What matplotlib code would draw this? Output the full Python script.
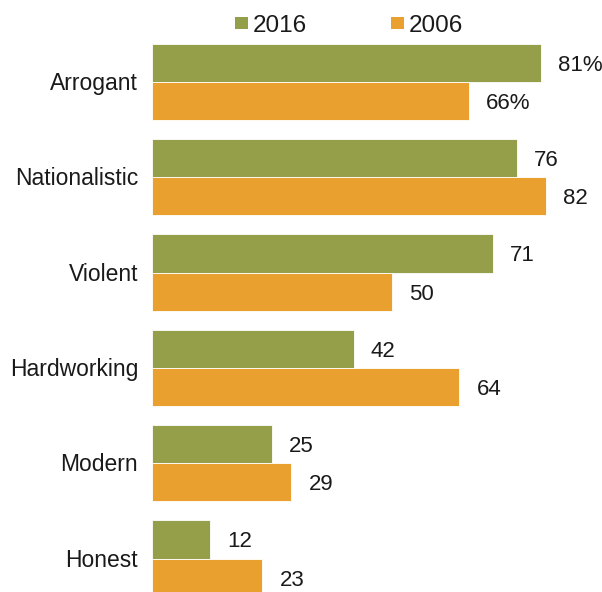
import matplotlib
matplotlib.use("Agg")
import matplotlib.pyplot as plt
from matplotlib.patches import Rectangle

categories = ["Arrogant", "Nationalistic", "Violent", "Hardworking", "Modern", "Honest"]
values_2016 = [81, 76, 71, 42, 25, 12]
values_2006 = [66, 82, 50, 64, 29, 23]
series_names = ["2016", "2006"]

GREEN = "#959F4A"
ORANGE = "#EAA02E"

fig = plt.figure(figsize=(6.02, 5.92), dpi=100)
ax = fig.add_axes([152 / 602, 0, 1 - 152 / 602, 1])

pos = list(range(len(categories)))
h = 0.4
ax.barh([p - h / 2 for p in pos], values_2016, height=h, color=GREEN,
        edgecolor="white", linewidth=0.6)
ax.barh([p + h / 2 for p in pos], values_2006, height=h, color=ORANGE,
        edgecolor="white", linewidth=0.6)

ax.set_xlim(0, 450 / 4.80)
ax.set_ylim(5.351, -0.860)
ax.axis("off")

fam = ["Liberation Sans", "DejaVu Sans"]
CAP = 0.716  # cap height of Liberation Sans as a fraction of the font size


def centred(size):
    # baseline shift that puts the middle of the capitals on the anchor point
    return -CAP * size / 2


label_size = 16
cat_size = 16.5
for i, (a, b) in enumerate(zip(values_2016, values_2006)):
    suffix = "%" if i == 0 else ""
    for val, y in ((a, i - h / 2), (b, i + h / 2)):
        ax.annotate(f"{val}{suffix}", (val, y), xytext=(12.5, centred(label_size)),
                    textcoords="offset points", va="baseline", ha="left",
                    fontsize=label_size, family=fam, color="#1a1a1a")
    ax.annotate(categories[i], (0, i), xytext=(-10, centred(cat_size)),
                textcoords="offset points", va="baseline", ha="right",
                annotation_clip=False, fontsize=cat_size, family=fam, color="#1a1a1a")

# legend drawn in figure pixels
def px(x, y):
    return x / 602, 1 - y / 592

for (x0, color, name) in [(235, GREEN, series_names[0]), (391, ORANGE, series_names[1])]:
    fx, fy = px(x0, 29)
    fig.patches.append(Rectangle((fx, fy), 13 / 602, 12 / 592, transform=fig.transFigure,
                                 facecolor=color, edgecolor="none"))
    tx, ty = px(x0 + 18, 32)
    fig.text(tx, ty, name, va="baseline", ha="left", fontsize=17.5,
             family=fam, color="#1a1a1a")

fig.savefig("out.png", dpi=100)
